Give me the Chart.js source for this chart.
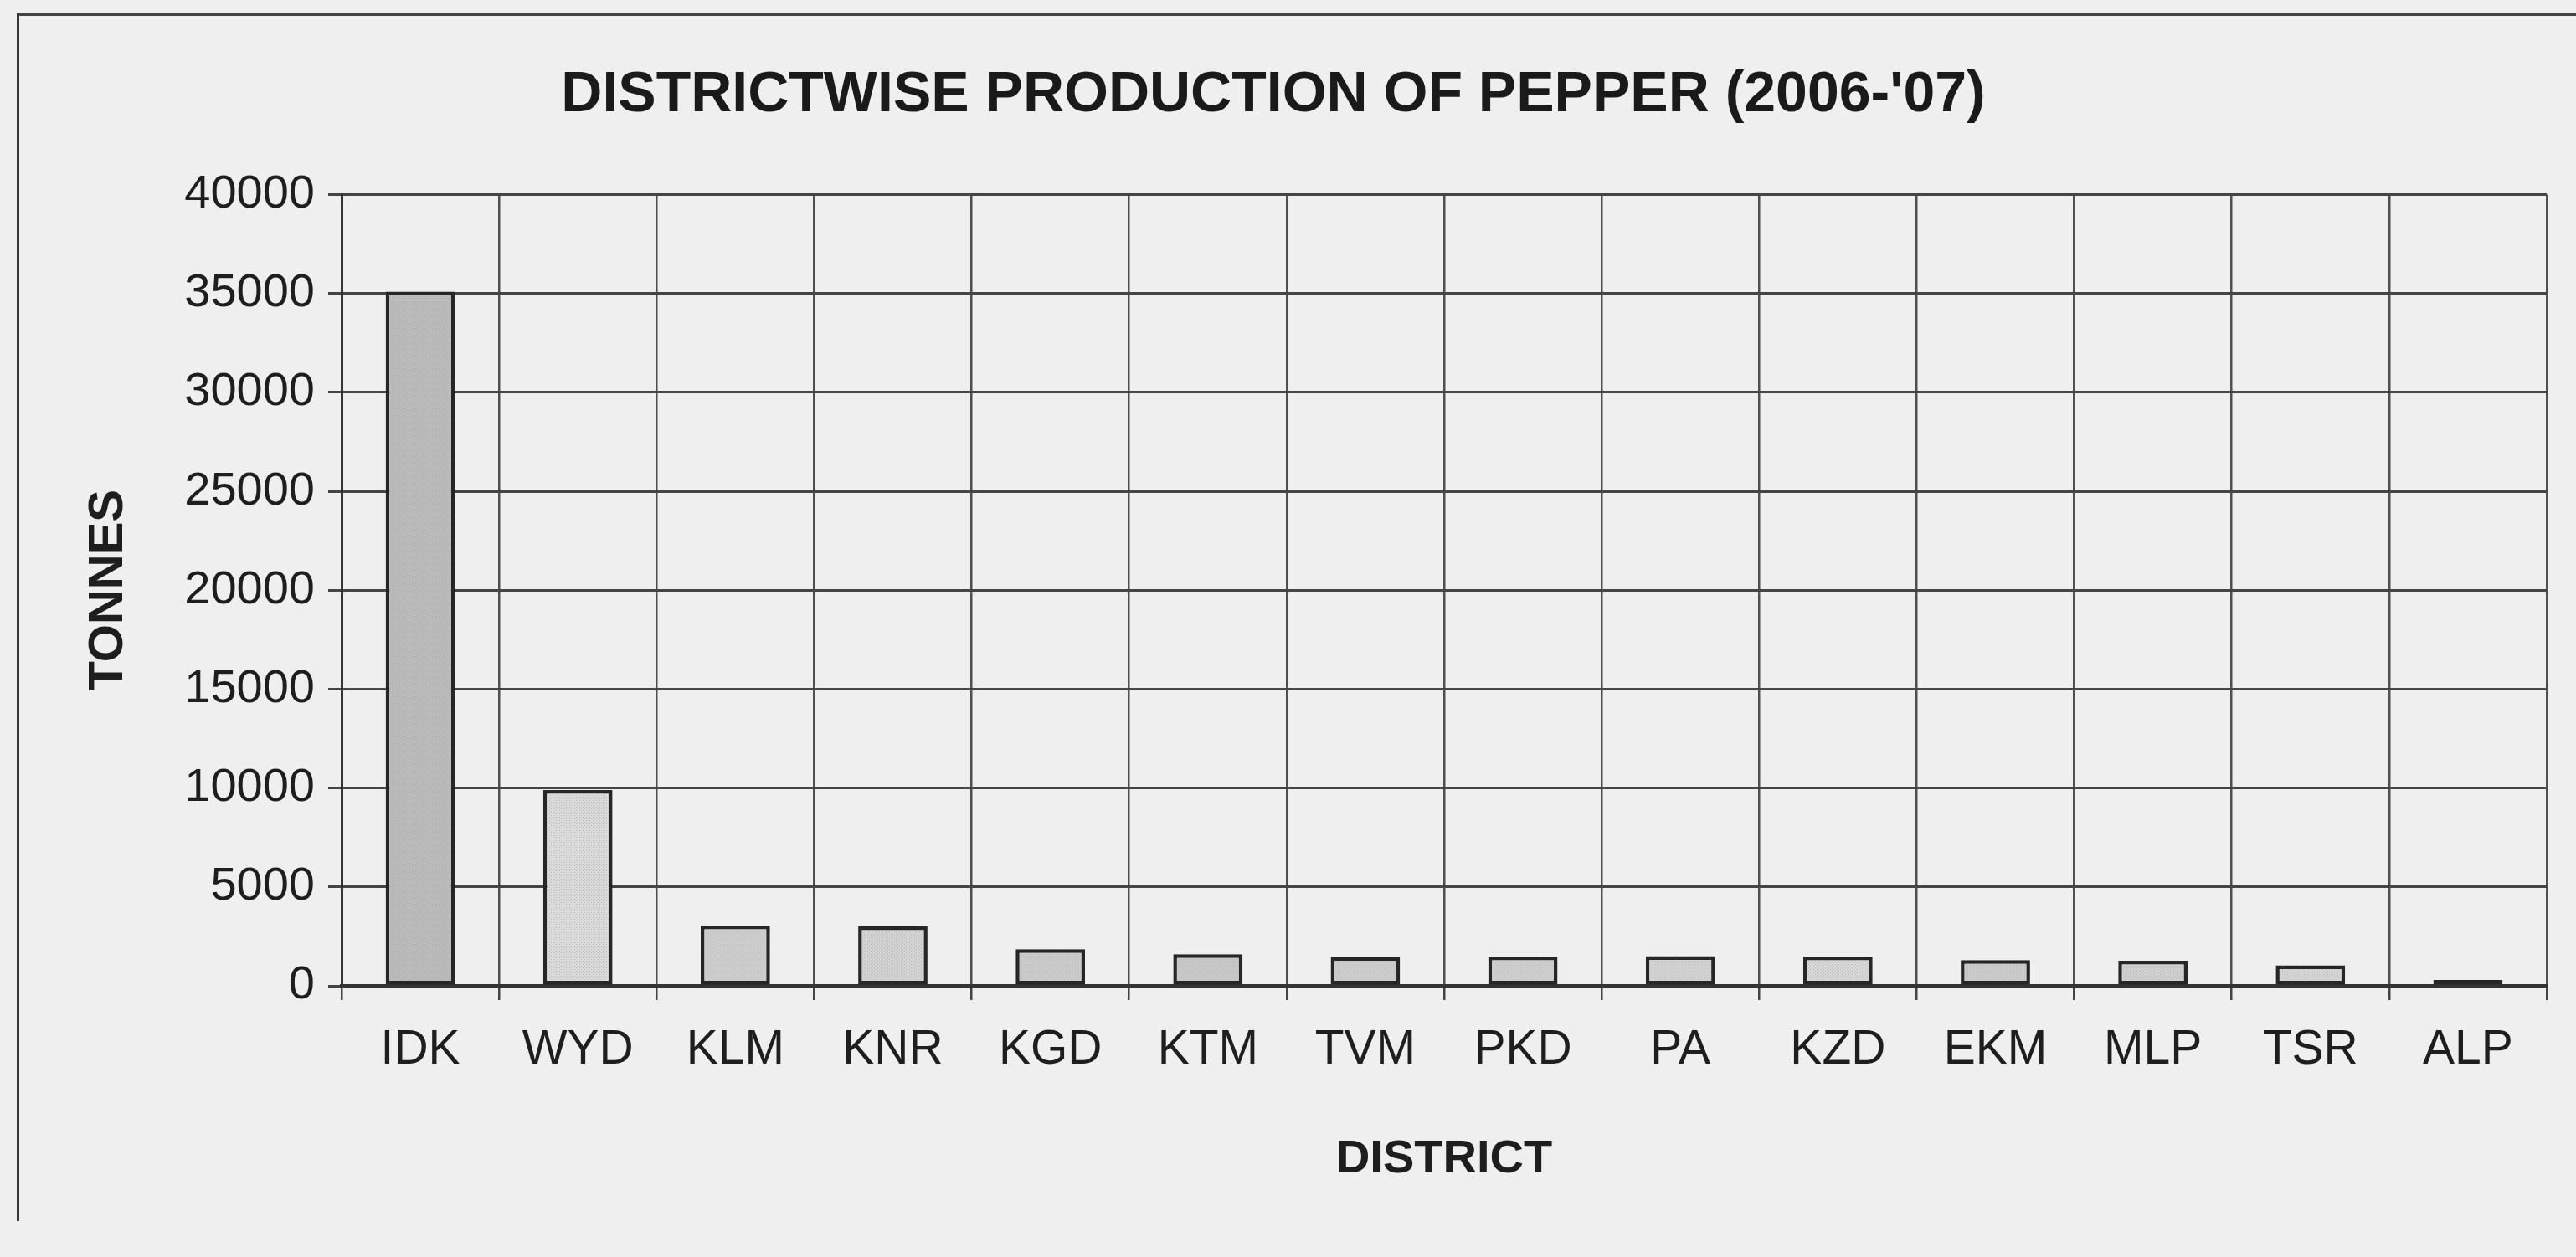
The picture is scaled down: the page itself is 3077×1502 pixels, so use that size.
<!doctype html>
<html>
<head>
	<title>Districtwise production of pepper</title>
	<script src="https://cdn.jsdelivr.net/npm/chart.js@4.4.1"></script>
	<style>
	* { margin: 0; padding: 0; }
	body { background: #efefef; width: 3077px; height: 1502px; overflow: hidden; }
	.frame { position: absolute; left: 20px; top: 16px; width: 3077px; height: 1440px; border-left: 3px solid #333; border-top: 3px solid #444; }
	.chartBox { position: absolute; left: 0; top: 0; width: 3077px; height: 1502px; }
	</style>
</head>
<body>
	<div class="frame"></div>
	<div class="chartBox">
		<canvas id="canvas_bar"></canvas>
	</div>
<script type="text/javascript">
	// districts and production in tonnes, 2006-07
	var districts = ['IDK','WYD','KLM','KNR','KGD','KTM','TVM','PKD','PA','KZD','EKM','MLP','TSR','ALP'];
	var tonnes = [35100, 9900, 3050, 3000, 1850, 1600, 1450, 1480, 1500, 1480, 1300, 1270, 1040, 300];
	var yTicks = [0, 5000, 10000, 15000, 20000, 25000, 30000, 35000, 40000];

	// small stipple pattern to imitate the printed fill
	function stipple(base, dot) {
		var c = document.createElement('canvas');
		c.width = 4; c.height = 4;
		var g = c.getContext('2d');
		g.fillStyle = base;
		g.fillRect(0, 0, 4, 4);
		g.fillStyle = dot;
		g.fillRect(0, 0, 1, 1);
		g.fillRect(2, 2, 1, 1);
		return g.createPattern(c, 'repeat');
	}

	var fills = [
		stipple('#bcbcbc', '#a8a8a8'),
		stipple('#dadada', '#bdbdbd'),
		stipple('#cdcdcd', '#bbbbbb'),
		stipple('#d2d2d2', '#bbbbbb'),
		stipple('#cccccc', '#b8b8b8'),
		stipple('#c8c8c8', '#b8b8b8'),
		stipple('#cdcdcd', '#bbbbbb'),
		stipple('#cfcfcf', '#bbbbbb'),
		stipple('#d2d2d2', '#bdbdbd'),
		stipple('#d6d6d6', '#bdbdbd'),
		stipple('#cbcbcb', '#b8b8b8'),
		stipple('#d0d0d0', '#b8b8b8'),
		stipple('#d4d4d4', '#bdbdbd'),
		stipple('#555555', '#444444')
	];

	var bar_data = {
		labels: districts,
		datasets: [{
			label: 'Production',
			data: tonnes,
			backgroundColor: fills,
			borderColor: '#262626',
			borderWidth: 4.5,
			borderSkipped: false,
			barPercentage: 0.44,
			categoryPercentage: 1.0
		}]
	};

	const bar_config = {
		type: 'bar',
		data: bar_data,
		options: {
			responsive: false,
			animation: false,
			layout: {
				padding: { left: 0, right: 35, top: 0, bottom: 83 }
			},
			scales: {
				x: {
					grid: {
						color: '#4f4f4f',
						lineWidth: 2.5,
						tickLength: 17,
						tickColor: '#444'
					},
					border: { color: '#333', width: 4 },
					ticks: {
						color: '#1e1e1e',
						padding: 26,
						font: { family: "'Liberation Sans', Arial", size: 57 }
					},
					title: {
						display: true,
						text: 'DISTRICT',
						color: '#1e1e1e',
						padding: { top: 0, bottom: 0 },
						font: { family: "'Liberation Sans', Arial", size: 56, weight: 'bold' }
					},
					afterFit: function(scale) {
						scale.height = 241;
					}
				},
				y: {
					min: 0,
					max: 40000,
					afterBuildTicks: function(scale) {
						scale.ticks = yTicks.map(function(v) { return { value: v }; });
					},
					grid: {
						color: '#454545',
						lineWidth: 3,
						tickLength: 16,
						tickColor: '#444'
					},
					border: { color: '#333', width: 3 },
					ticks: {
						color: '#1e1e1e',
						padding: 16,
						font: { family: "'Liberation Sans', Arial", size: 56 },
						callback: function(value) {
							return String(value);
						}
					},
					title: {
						display: true,
						text: 'TONNES',
						color: '#1e1e1e',
						padding: { top: 95, bottom: 0 },
						font: { family: "'Liberation Sans', Arial", size: 58, weight: 'bold' }
					},
					afterFit: function(scale) {
						scale.width = 408;
					}
				}
			},
			plugins: {
				legend: { display: false },
				tooltip: { enabled: false },
				title: {
					display: true,
					text: "DISTRICTWISE PRODUCTION OF PEPPER (2006-'07)",
					color: '#1a1a1a',
					padding: { top: 73, bottom: 78 },
					font: { family: "'Liberation Sans', Arial", size: 68, weight: 'bold' }
				}
			}
		}
	};

	var canvas = document.getElementById('canvas_bar');
	canvas.width = 3077;
	canvas.height = 1502;
	var bar_Chart = new Chart(canvas, bar_config);
</script>
</body>
</html>
